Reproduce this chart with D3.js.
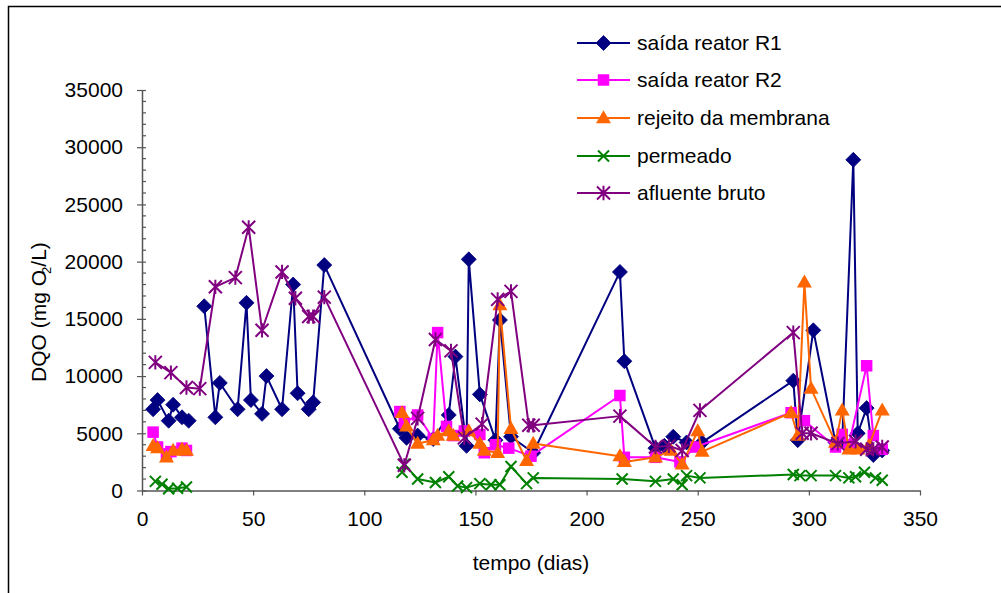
<!DOCTYPE html>
<html>
<head>
<meta charset="utf-8">
<script src="https://cdn.jsdelivr.net/npm/d3@7"></script>
<style>
  body { margin: 0; background: #fff; }
  svg { display: block; }
  text { font-family: "Liberation Sans", Arial, sans-serif; fill: #000; }
</style>
</head>
<body>
<svg id="chart" width="1001" height="593"></svg>
<script>
// ---- data: DQO (mg O2/L) over time (days); null = no sample (line break) ----
const xTickValues = [0, 50, 100, 150, 200, 250, 300, 350];
const yTickValues = [0, 5000, 10000, 15000, 20000, 25000, 30000, 35000];

const r1Days   = [5, 7, 12, 14, 18, 21, 26, 28, 33, 35, 43, 47, 49, 54, 56, 63, 68, 70, 75, 77, 82,
                  116, 119, 124, 131, 138, 141, 146, 147, 152, 159, 161, 166, 176,
                  215, 217, 231, 235, 239, 245, 252,
                  293, 295, 302, 312, 315, 320, 322, 326, 329, 333];
const r1Values = [7100, 7900, 6100, 7500, 6400, 6100, null, 16100, 6400, 9400, 7100, 16400, 7900, 6700, 10000, 7100, 18000, 8500, 7100, 7700, 19700,
                  5400, 4600, 4800, 4500, 6600, 11700, 3900, 20200, 8400, 4400, 14900, 4700, 3300,
                  19100, 11300, 3700, 3900, 4700, 4200, 4200,
                  9600, 4400, 14000, 4200, 4300, 28900, 5000, 7200, 3100, 3500];

const r2Days   = [5, 7, 11, 13, 18, 20, 60,
                  116, 118, 124, 131, 133, 137, 140, 145, 152, 154, 159, 165, 175,
                  215, 217, 231, 242, 249,
                  292, 298, 312, 315, 318, 326, 329, 333];
const r2Values = [5100, 3800, 3200, 3400, 3700, 3500, null,
                  6900, 5900, 6600, 4500, 13800, 5600, 4800, 5200, 4900, 3300, 4000, 3700, 3000,
                  8300, 2900, 2900, 2500, 3800,
                  6800, 6100, 3800, 4900, 4000, 10900, 4800, 3600];

const rejDays   = [5, 7, 11, 14, 18, 20, 60,
                   117, 119, 124, 131, 133, 138, 140, 147, 152, 154, 160, 161, 166, 173, 176,
                   215, 217, 231, 238, 243, 250, 252,
                   292, 295, 298, 301, 312, 315, 318, 322, 327, 333];
const rejValues = [3900, 3700, 2900, 3500, 3600, 3500, null,
                   6800, 5600, 4100, 4400, 4800, 5200, 4800, 5200, 4100, 3500, 3300, 16200, 5400, 2600, 4100,
                   3000, 2500, 2900, 3500, 2300, 5200, 3400,
                   6800, 4800, 18200, 8900, 4200, 7000, 3600, 3600, 3900, 7000];

const permDays   = [6, 9, 12, 16, 20, 60,
                    117, 118, 124, 132, 138, 142, 146, 152, 157, 161, 166, 173, 176,
                    216, 231, 239, 243, 245, 251,
                    293, 296, 301, 312, 318, 321, 325, 330, 333];
const permValues = [800, 550, 150, 200, 300, null,
                    1600, 2300, 1000, 700, 1200, 400, 250, 600, 500, 500, 2100, 600, 1100,
                    1000, 800, 1000, 500, 1300, 1100,
                    1400, 1300, 1300, 1300, 1100, 1200, 1600, 1100, 900];

const aflDays   = [6, 13, 20, 26, 33, 42, 48, 54, 63, 69, 75, 77, 82,
                   118, 124, 132, 139, 145, 153, 160, 166, 174, 176,
                   215, 231, 237, 243, 251,
                   293, 297, 301, 313, 321, 326, 329, 333];
const aflValues = [11200, 10300, 9000, 8900, 17800, 18600, 23000, 14000, 19100, 16800, 15200, 15200, 16900,
                   2200, 6300, 13200, 12200, 4600, 5800, 16700, 17400, 5700, 5700,
                   6500, 3800, 3900, 3500, 7000,
                   13800, 5000, 5000, 4100, 4300, 3600, 3600, 3800];

const seriesNames = ["saída reator R1", "saída reator R2", "rejeito da membrana", "permeado", "afluente bruto"];

// ---- series table built from the arrays above ----
const zip = (days, vals) => days.map((d, i) => ({ day: d, value: vals[i] }));
const series = [
  { name: seriesNames[0], points: zip(r1Days, r1Values),   color: "#000080", marker: "diamond" },
  { name: seriesNames[1], points: zip(r2Days, r2Values),   color: "#FF00FF", marker: "square" },
  { name: seriesNames[2], points: zip(rejDays, rejValues), color: "#FF6600", marker: "triangle" },
  { name: seriesNames[3], points: zip(permDays, permValues), color: "#008000", marker: "cross" },
  { name: seriesNames[4], points: zip(aflDays, aflValues), color: "#800080", marker: "star" }
];

const svg = d3.select("#chart");
const W = 1001, H = 593;
const plot = { left: 142, right: 920, top: 90, bottom: 490.5 };
const fontSize = 21;

// outer frame
svg.append("rect")
  .attr("x", 8.5).attr("y", 6.5)
  .attr("width", W).attr("height", H)
  .attr("fill", "none").attr("stroke", "#000").attr("stroke-width", 1.5);

const x = d3.scaleLinear().domain([0, 350]).range([plot.left, plot.right]);
const y = d3.scaleLinear().domain([0, 35000]).range([plot.bottom, plot.top]);

const axisColor = "#555";

// x axis
const xAxis = svg.append("g")
  .attr("transform", `translate(0,${plot.bottom})`)
  .call(d3.axisBottom(x).tickValues(xTickValues).tickFormat(d3.format("d"))
    .tickSize(5).tickSizeOuter(0).tickPadding(16));
xAxis.select(".domain").attr("stroke", axisColor).attr("stroke-width", 1.5);
xAxis.selectAll(".tick line").attr("stroke", axisColor).attr("stroke-width", 1.2);
xAxis.selectAll(".tick text").attr("font-size", fontSize).attr("fill", "#000")
  .attr("font-family", "Liberation Sans, Arial, sans-serif");

// y axis: major ticks crossing the axis, minor ticks inside every 1000
const yAxis = svg.append("g")
  .attr("transform", `translate(${plot.left},0)`)
  .call(d3.axisLeft(y).tickValues(yTickValues).tickFormat(d3.format("d"))
    .tickSize(5).tickSizeOuter(0).tickPadding(14));
yAxis.select(".domain").attr("stroke", axisColor).attr("stroke-width", 1.5);
yAxis.selectAll(".tick line").attr("stroke", axisColor).attr("stroke-width", 1.2).attr("x2", 4).attr("x1", -5);
yAxis.selectAll(".tick text").attr("font-size", fontSize).attr("fill", "#000")
  .attr("font-family", "Liberation Sans, Arial, sans-serif");
const minor = d3.range(0, 35001, 1000).filter(v => v % 5000 !== 0);
svg.append("g").selectAll("line").data(minor).join("line")
  .attr("x1", plot.left).attr("x2", plot.left + 4)
  .attr("y1", d => y(d)).attr("y2", d => y(d))
  .attr("stroke", axisColor).attr("stroke-width", 1.2);

// axis titles
svg.append("text")
  .attr("x", (plot.left + plot.right) / 2).attr("y", 570)
  .attr("text-anchor", "middle").attr("font-size", fontSize)
  .text("tempo (dias)");

const yTitle = svg.append("text")
  .attr("transform", `translate(46,312) rotate(-90)`)
  .attr("text-anchor", "middle").attr("font-size", fontSize);
yTitle.append("tspan").text("DQO (mg O");
yTitle.append("tspan").attr("font-size", 13).attr("dy", 5).attr("dx", -4).text("2");
yTitle.append("tspan").attr("dy", -5).text("/L)");

// marker painters
function drawMarker(g, type, color, cx, cy) {
  if (type === "diamond") {
    const r = 7.5;
    g.append("path").attr("d", `M${cx},${cy - r}L${cx + r},${cy}L${cx},${cy + r}L${cx - r},${cy}Z`)
      .attr("fill", color).attr("stroke", color).attr("stroke-width", 0.8);
  } else if (type === "square") {
    const s = 11.5;
    g.append("rect").attr("x", cx - s / 2).attr("y", cy - s / 2).attr("width", s).attr("height", s)
      .attr("fill", color);
  } else if (type === "triangle") {
    const w = 15, h = 13;
    g.append("path").attr("d", `M${cx},${cy - h * 0.6}L${cx + w / 2},${cy + h * 0.4}L${cx - w / 2},${cy + h * 0.4}Z`)
      .attr("fill", color);
  } else if (type === "cross") {
    const r = 5.5;
    g.append("path").attr("d", `M${cx - r},${cy - r}L${cx + r},${cy + r}M${cx - r},${cy + r}L${cx + r},${cy - r}`)
      .attr("stroke", color).attr("stroke-width", 2).attr("fill", "none");
  } else if (type === "star") {
    const r = 6.5;
    g.append("path").attr("d",
      `M${cx - r},${cy - r}L${cx + r},${cy + r}M${cx - r},${cy + r}L${cx + r},${cy - r}M${cx},${cy - r * 1.1}L${cx},${cy + r * 1.1}`)
      .attr("stroke", color).attr("stroke-width", 2).attr("fill", "none");
  }
}

// series: line then markers, in series order
const line = d3.line()
  .defined(d => d.value !== null)
  .x(d => x(d.day)).y(d => y(d.value));

series.forEach(s => {
  const g = svg.append("g");
  g.append("path").datum(s.points)
    .attr("d", line)
    .attr("fill", "none").attr("stroke", s.color).attr("stroke-width", 2)
    .attr("stroke-linejoin", "round");
  s.points.filter(p => p.value !== null)
    .forEach(p => drawMarker(g, s.marker, s.color, x(p.day), y(p.value)));
});

// legend
const legend = svg.append("g");
const legendRows = [43, 80, 118, 156, 193];
series.forEach((s, i) => {
  const ly = legendRows[i];
  const g = legend.append("g");
  g.append("line").attr("x1", 577).attr("x2", 630).attr("y1", ly).attr("y2", ly)
    .attr("stroke", s.color).attr("stroke-width", 2);
  drawMarker(g, s.marker, s.color, 603.5, ly);
  g.append("text").attr("x", 637).attr("y", ly).attr("dy", "0.35em")
    .attr("font-size", fontSize).text(s.name);
});
</script>
</body>
</html>
